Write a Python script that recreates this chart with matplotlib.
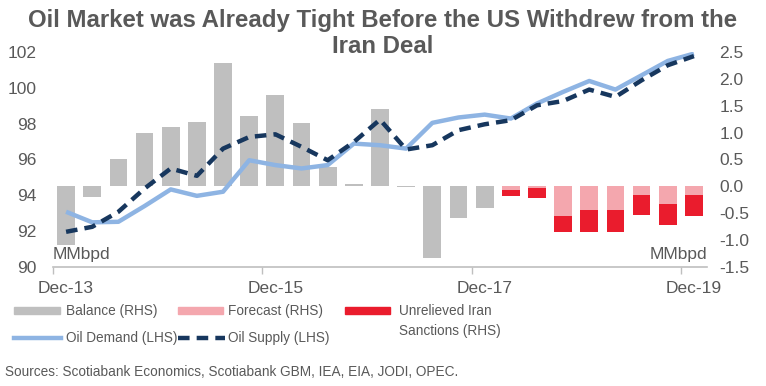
import numpy as np
import matplotlib
matplotlib.use("Agg")
import matplotlib.pyplot as plt
from matplotlib.patches import Rectangle
from matplotlib.lines import Line2D

plt.rcParams['font.family'] = ['Liberation Sans', 'DejaVu Sans']

# ---------------- data ----------------
quarters = np.arange(25)  # Dec-13 ... Dec-19 quarterly
tick_labels = ["Dec-13", "Dec-15", "Dec-17", "Dec-19"]
tick_label_idx = [0, 8, 16, 24]

balance = [-1.10, -0.20, 0.50, 1.00, 1.10, 1.19, 2.29, 1.30, 1.70, 1.17, 0.36,
           0.05, 1.43, -0.02, -1.33, -0.60, -0.41] + [np.nan] * 8
forecast = [np.nan] * 17 + [-0.07, -0.03, -0.56, -0.44, -0.45, -0.16, -0.34, -0.17]
sanctions = [np.nan] * 17 + [-0.12, -0.19, -0.30, -0.41, -0.40, -0.38, -0.39, -0.39]

demand = [93.07, 92.48, 92.51, 93.39, 94.32, 93.96, 94.19, 95.95, 95.68, 95.49,
          95.68, 96.88, 96.79, 96.60, 98.04, 98.34, 98.50, 98.28, 99.12, 99.77,
          100.38, 99.90, 100.70, 101.50, 101.91]
supply = [91.95, 92.23, 93.07, 94.37, 95.49, 95.08, 96.60, 97.25, 97.40, 96.70,
          95.95, 96.97, 98.22, 96.55, 96.79, 97.63, 97.96, 98.19, 99.02, 99.26,
          99.90, 99.49, 100.42, 101.26, 101.77]

# ---------------- style ----------------
TXT = '#595959'
C_BAL = '#BFBFBF'
C_FC = '#F4A7AE'
C_SAN = '#EA1C2D'
C_DEM = '#8EB4E3'
C_SUP = '#17375E'
FS = 12.5
FS_LEG = 9.8

W, H = 766, 386
fig = plt.figure(figsize=(W / 100, H / 100), dpi=100)

def fx(px):
    return px / W

def fy(py):
    return 1 - py / H

left_px, right_px, top_px, bot_px = 53, 707, 52, 266.7
ax1 = fig.add_axes([left_px / W, 1 - bot_px / H, (right_px - left_px) / W, (bot_px - top_px) / H])
ax2 = ax1.twinx()

# bars on right axis
bw = 0.68
bal = np.array(balance, dtype=float)
fc = np.array(forecast, dtype=float)
sn = np.array(sanctions, dtype=float)
ax2.bar(quarters, bal, width=bw, color=C_BAL, zorder=2)
ax2.bar(quarters, fc, width=bw, color=C_FC, zorder=2)
ax2.bar(quarters, sn, width=bw, bottom=np.nan_to_num(fc), color=C_SAN, zorder=2)
ax2.set_ylim(-1.5, 2.5)
rticks = np.arange(-1.5, 2.51, 0.5)
ax2.set_yticks(rticks)
ax2.set_yticklabels([f"{v:.1f}" for v in rticks])

# lines on left axis
ax1.plot(quarters, demand, color=C_DEM, lw=3.2, solid_capstyle='butt', zorder=3)
ax1.plot(quarters, supply, color=C_SUP, lw=3.2, dashes=(2.6, 1.6), zorder=4)
ax1.set_ylim(90, 102)
ax1.set_yticks(np.arange(90, 102.1, 2))
ax1.set_xlim(-0.5, 24.5)

ax1.set_zorder(ax2.get_zorder() + 1)
ax1.patch.set_visible(False)

# x axis: ticks at boundaries, labels at centers
ax1.set_xticks([-0.5, 7.5, 15.5, 23.5])
ax1.set_xticklabels([])
ax1.set_xticks(tick_label_idx, minor=True)
ax1.set_xticklabels(tick_labels, minor=True)
ax1.tick_params(axis='x', which='major', length=5, width=1, color='#BFBFBF', direction='out')
ax1.tick_params(axis='x', which='minor', length=0, pad=10, labelsize=FS, labelcolor=TXT)
ax1.tick_params(axis='y', length=0, pad=12, labelsize=FS, labelcolor=TXT)
ax2.tick_params(axis='y', length=0, pad=9, labelsize=FS, labelcolor=TXT)

for ax in (ax1, ax2):
    for s in ('top', 'left', 'right', 'bottom'):
        ax.spines[s].set_visible(False)
ax1.spines['bottom'].set_visible(True)
ax1.spines['bottom'].set_color('#BFBFBF')
ax1.spines['bottom'].set_linewidth(1.2)

# MMbpd labels
ax1.text(-0.5, 90.25, "MMbpd", fontsize=FS, color=TXT, ha='left', va='bottom')
ax1.text(24.5, 90.25, "MMbpd", fontsize=FS, color=TXT, ha='right', va='bottom')

# title (two lines placed at their baselines)
fig.text(0.5, fy(26.7), "Oil Market was Already Tight Before the US Withdrew from the",
         ha='center', va='baseline', fontsize=17.3, fontweight='bold', color=TXT)
fig.text(0.5, fy(53.3), "Iran Deal",
         ha='center', va='baseline', fontsize=17.3, fontweight='bold', color=TXT)

# legend (manual)
ph = 7
fig.patches.append(Rectangle((fx(14), fy(314)), fx(60) - fx(14), ph / H, color=C_BAL, transform=fig.transFigure))
fig.text(fx(66), fy(311), "Balance (RHS)", fontsize=FS_LEG, color=TXT, va='center')
fig.patches.append(Rectangle((fx(178), fy(314)), fx(223) - fx(178), ph / H, color=C_FC, transform=fig.transFigure))
fig.text(fx(228), fy(311), "Forecast (RHS)", fontsize=FS_LEG, color=TXT, va='center')
fig.patches.append(Rectangle((fx(345), fy(314)), fx(390) - fx(345), ph / H, color=C_SAN, transform=fig.transFigure))
fig.text(fx(399), fy(311), "Unrelieved Iran", fontsize=FS_LEG, color=TXT, va='center')
fig.text(fx(399), fy(331), "Sanctions (RHS)", fontsize=FS_LEG, color=TXT, va='center')

fig.lines.append(Line2D([fx(14), fx(61)], [fy(338), fy(338)], color=C_DEM, lw=3.2, transform=fig.transFigure))
fig.text(fx(66), fy(338), "Oil Demand (LHS)", fontsize=FS_LEG, color=TXT, va='center')
fig.lines.append(Line2D([fx(178), fx(225)], [fy(338), fy(338)], color=C_SUP, lw=3.2, dashes=(2.6, 1.6),
                        transform=fig.transFigure))
fig.text(fx(228), fy(338), "Oil Supply (LHS)", fontsize=FS_LEG, color=TXT, va='center')

fig.text(fx(5), fy(372), "Sources: Scotiabank Economics, Scotiabank GBM, IEA, EIA, JODI, OPEC.",
         fontsize=FS_LEG, color=TXT, va='center')

fig.savefig("out.png", dpi=100)
